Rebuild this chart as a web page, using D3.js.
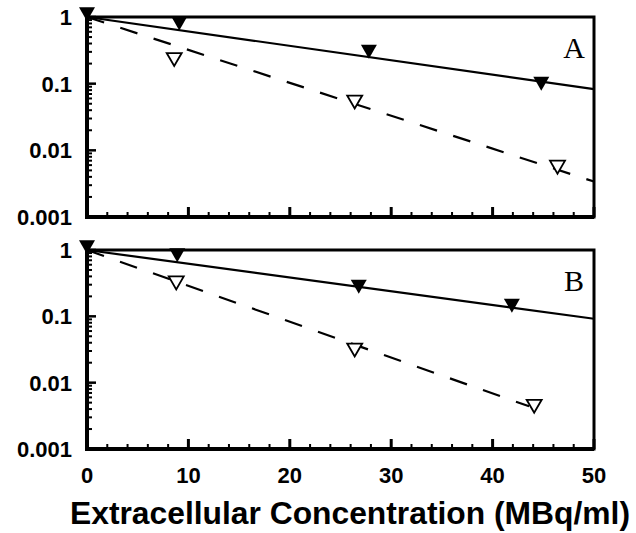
<!DOCTYPE html>
<html>
<head>
<meta charset="utf-8">
<script src="https://cdn.jsdelivr.net/npm/d3@7"></script>
<style>
  body { margin: 0; background: #fff; }
  .tick-label { font-family: "Liberation Sans", Arial, Helvetica, sans-serif; font-weight: bold; font-size: 22px; }
  .axis-title { font-family: "Liberation Sans", Arial, Helvetica, sans-serif; font-weight: bold; font-size: 31px; }
  .panel-letter { font-family: "Liberation Serif", "Times New Roman", serif; font-size: 30px; }
</style>
</head>
<body>
<svg id="chart" width="636" height="533"></svg>
<script>
// data
const xTicks = [0, 10, 20, 30, 40, 50]
const yTicks = [1, 0.1, 0.01, 0.001]
const yTickLabels = ["1", "0.1", "0.01", "0.001"]
const xTitle = "Extracellular Concentration (MBq/ml)"

// panel A
const aFilledX = [0, 9.1, 27.8, 44.8]
const aFilledY = [1.1, 0.8, 0.3, 0.1]
const aOpenX = [8.6, 26.4, 46.4]
const aOpenY = [0.23, 0.053, 0.0056]
const aSolidX = [0, 50]
const aSolidY = [1, 0.083]
const aDashX = [0, 50]
const aDashY = [1, 0.0034]

// panel B
const bFilledX = [0, 8.9, 26.8, 41.9]
const bFilledY = [1.1, 0.83, 0.28, 0.145]
const bOpenX = [8.8, 26.4, 44.1]
const bOpenY = [0.32, 0.031, 0.0044]
const bSolidX = [0, 50]
const bSolidY = [1, 0.092]
const bDashX = [0, 43.6]
const bDashY = [1, 0.0044]

const svg = d3.select("#chart")
const left = 87, right = 594

let xScale = d3.scaleLinear().domain([0, 50]).range([left, right])

function triangle(w, h) {
    return `M${-w/2},${-h/2}L${w/2},${-h/2}L0,${h/2}Z`
}

function drawPanel(top, bottom, letter, fX, fY, oX, oY, sX, sY, dX, dY, showX) {
    let yScale = d3.scaleLog().domain([0.001, 1]).range([bottom, top])
    let g = svg.append("g")

    // minor + major ticks on y (inward)
    let yMinor = []
    yTicks.slice(1).forEach(d => { for (let k = 2; k < 10; k++) yMinor.push(d * k) })
    g.selectAll(".ymin").data(yMinor).enter().append("line")
        .attr("x1", left).attr("x2", left + 5)
        .attr("y1", d => yScale(d)).attr("y2", d => yScale(d))
        .attr("stroke", "#000").attr("stroke-width", 2)
    g.selectAll(".ymaj").data(yTicks).enter().append("line")
        .attr("x1", left).attr("x2", left + 9)
        .attr("y1", d => yScale(d)).attr("y2", d => yScale(d))
        .attr("stroke", "#000").attr("stroke-width", 2.5)

    // ticks on x (inward)
    let xMinor = d3.range(0, 50, 2).filter(d => d % 10 !== 0)
    g.selectAll(".xmin").data(xMinor).enter().append("line")
        .attr("x1", d => xScale(d)).attr("x2", d => xScale(d))
        .attr("y1", bottom).attr("y2", bottom - 5)
        .attr("stroke", "#000").attr("stroke-width", 2)
    g.selectAll(".xmaj").data(xTicks).enter().append("line")
        .attr("x1", d => xScale(d)).attr("x2", d => xScale(d))
        .attr("y1", bottom).attr("y2", bottom - 10)
        .attr("stroke", "#000").attr("stroke-width", 3)

    // frame
    g.append("rect")
        .attr("x", left).attr("y", top)
        .attr("width", right - left).attr("height", bottom - top)
        .attr("fill", "none").attr("stroke", "#000").attr("stroke-width", 3)
    g.append("path")
        .attr("d", `M${left},${top}V${bottom}H${right}`)
        .attr("fill", "none").attr("stroke", "#000").attr("stroke-width", 4)

    // y labels
    g.selectAll(".ylab").data(yTicks).enter().append("text")
        .attr("class", "tick-label")
        .attr("x", 72).attr("y", d => yScale(d))
        .attr("dy", "0.36em")
        .attr("text-anchor", "end")
        .text((d, i) => yTickLabels[i])

    if (showX) {
        g.selectAll(".xlab").data(xTicks).enter().append("text")
            .attr("class", "tick-label")
            .attr("x", d => xScale(d)).attr("y", bottom + 34)
            .attr("text-anchor", "middle")
            .text(d => d)
    }

    // fitted lines
    let line = d3.line().x(d => xScale(d[0])).y(d => yScale(d[1]))
    g.append("path").attr("d", line(sX.map((d, i) => [d, sY[i]])))
        .attr("fill", "none").attr("stroke", "#000").attr("stroke-width", 2.2)
    g.append("path").attr("d", line(dX.map((d, i) => [d, dY[i]])))
        .attr("fill", "none").attr("stroke", "#000").attr("stroke-width", 2.2)
        .attr("stroke-dasharray", "18,17")

    // markers
    g.selectAll(".open").data(oX).enter().append("path")
        .attr("transform", (d, i) => `translate(${xScale(d)},${yScale(oY[i])})`)
        .attr("d", triangle(15, 13))
        .attr("fill", "#fff").attr("stroke", "#000").attr("stroke-width", 1.8)
    g.selectAll(".filled").data(fX).enter().append("path")
        .attr("transform", (d, i) => `translate(${xScale(d)},${yScale(fY[i])})`)
        .attr("d", triangle(16, 14))
        .attr("fill", "#000")

    g.append("text")
        .attr("class", "panel-letter")
        .attr("x", 574).attr("y", top + 41)
        .attr("text-anchor", "middle")
        .text(letter)
}

drawPanel(17, 217, "A", aFilledX, aFilledY, aOpenX, aOpenY, aSolidX, aSolidY, aDashX, aDashY, false)
drawPanel(250, 449, "B", bFilledX, bFilledY, bOpenX, bOpenY, bSolidX, bSolidY, bDashX, bDashY, true)

// x title
svg.append("text")
    .attr("class", "axis-title")
    .attr("x", 350).attr("y", 524)
    .attr("text-anchor", "middle")
    .attr("textLength", 560)
    .attr("lengthAdjust", "spacingAndGlyphs")
    .text(xTitle)
</script>
</body>
</html>
